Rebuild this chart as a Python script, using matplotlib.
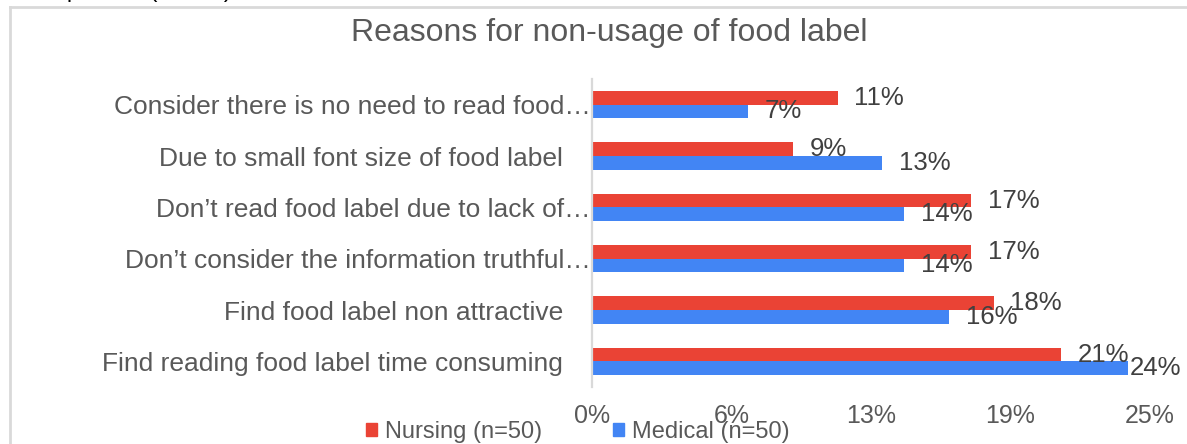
import matplotlib
matplotlib.use('Agg')
import matplotlib.pyplot as plt
from matplotlib.patches import Patch
from matplotlib.lines import Line2D
from matplotlib.transforms import ScaledTranslation
import numpy as np

plt.rcParams['font.family'] = ['Liberation Sans', 'DejaVu Sans']

TITLE = 'Reasons for non-usage of food label'
CATEGORIES = [
    'Consider there is no need to read food\u2026',
    'Due to small font size of food label',
    'Don\u2019t read food label due to lack of\u2026',
    'Don\u2019t consider the information truthful\u2026',
    'Find food label non attractive',
    'Find reading food label time consuming',
]
NURSING = [11, 9, 17, 17, 18, 21]
MEDICAL = [7, 13, 14, 14, 16, 24]
SERIES_NAMES = ['Nursing (n=50)', 'Medical (n=50)']
X_TICKS = [0, 6.25, 12.5, 18.75, 25]
X_TICK_LABELS = ['0%', '6%', '13%', '19%', '25%']

RED = '#EA4335'
BLUE = '#4285F4'
TEXT_GRAY = '#595959'
LABEL_GRAY = '#404040'
LINE_GRAY = '#d9d9d9'

W, H = 1187, 444
fig = plt.figure(figsize=(W / 100, H / 100), dpi=100)
ax = fig.add_axes([592 / W, 1 - 387 / H, (1150 - 592) / W, (387 - 79) / H])

y = np.arange(len(CATEGORIES))
bh = 0.263
ax.barh(y - bh / 2, NURSING, height=bh, color=RED)
ax.barh(y + bh / 2, MEDICAL, height=bh, color=BLUE)

# value labels to the right of each bar
for yi, v in zip(y, NURSING):
    ax.text(min(v + 0.75, 24.1), yi - bh / 2, f'{v}%', va='center', ha='left',
            fontsize=18.5, color=LABEL_GRAY)
for yi, v in zip(y, MEDICAL):
    ax.text(min(v + 0.75, 24.1), yi + bh / 2, f'{v}%', va='center', ha='left',
            fontsize=18.5, color=LABEL_GRAY)

ax.set_xlim(0, 25)
ax.set_ylim(len(CATEGORIES) - 0.5, -0.5)
ax.set_xticks(X_TICKS)
ax.set_xticklabels(X_TICK_LABELS)
ax.set_yticks(y)
ax.set_yticklabels(CATEGORIES)
ax.tick_params(axis='both', length=0, colors=TEXT_GRAY)
ax.tick_params(axis='x', labelsize=18, pad=12)
ax.tick_params(axis='y', labelsize=19, pad=21)

# truncated labels run right up to the axis
for lab in ax.get_yticklabels():
    if lab.get_text().endswith('\u2026'):
        lab.set_transform(lab.get_transform() + ScaledTranslation(28 / 100, 0, fig.dpi_scale_trans))

for s in ['top', 'right', 'bottom']:
    ax.spines[s].set_visible(False)
ax.spines['left'].set_color(LINE_GRAY)
ax.spines['left'].set_linewidth(1.6)

fig.text(609 / W, 1 - 33 / H, TITLE, ha='center', va='center', fontsize=23, color=TEXT_GRAY)

handles = [Patch(color=RED), Patch(color=BLUE)]
fig.legend(handles, SERIES_NAMES, loc='center', bbox_to_anchor=(578 / W, 1 - 432 / H),
           ncol=2, frameon=False, fontsize=17, labelcolor=TEXT_GRAY,
           handlelength=0.45, handleheight=0.45, handletextpad=0.35, columnspacing=3.0)

# frame of the chart box (left and top edges visible)
fig.add_artist(Line2D([10 / W, 10 / W], [0, 1 - 7 / H], transform=fig.transFigure,
                      color=LINE_GRAY, linewidth=2))
fig.add_artist(Line2D([10 / W, 1], [1 - 7 / H, 1 - 7 / H], transform=fig.transFigure,
                      color=LINE_GRAY, linewidth=2))

# cut-off line of document text above the chart
fig.text(25 / W, 1 + 8.5 / H, 'Responses (n=100)', ha='left', va='center', fontsize=17, color='black')

fig.savefig('out.png', dpi=100)
